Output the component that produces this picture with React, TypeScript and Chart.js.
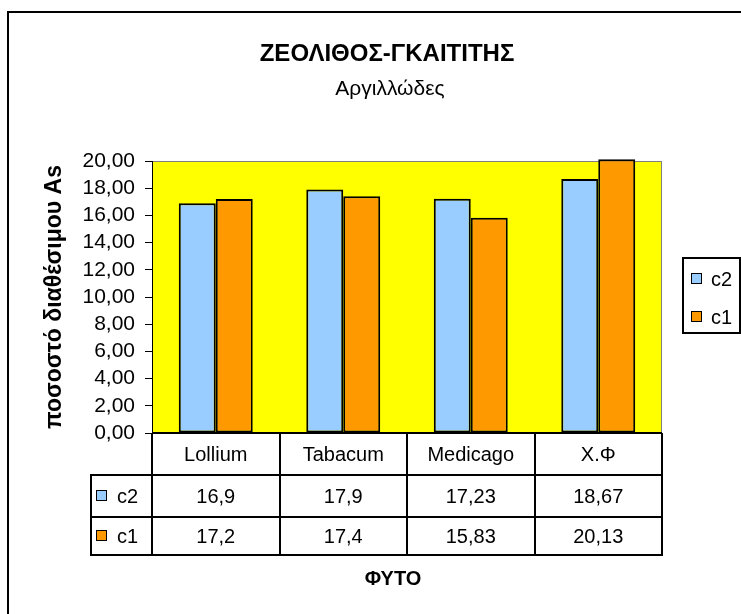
import React, { useEffect, useRef } from "react";
import { Chart, registerables } from "chart.js";

Chart.register(...registerables);

const titleText = "ΖΕΟΛΙΘΟΣ-ΓΚΑΙΤΙΤΗΣ";
const subtitleText = "Αργιλλώδες";
const yAxisTitle = "ποσοστό διαθέσιμου As";
const xAxisTitle = "ΦΥΤΟ";
const categories = ["Lollium", "Tabacum", "Medicago", "Χ.Φ"];
const seriesNames = ["c2", "c1"];
const c2Values = [16.9, 17.9, 17.23, 18.67];
const c1Values = [17.2, 17.4, 15.83, 20.13];
const seriesColors = ["#99CCFF", "#FF9900"];
const yMin = 0;
const yMax = 20;
const yStep = 2;

const FONT = "'Liberation Sans', Arial, sans-serif";
const fmtTick = (v: number) => v.toFixed(2).replace(".", ",");
const fmtVal = (v: number) => String(v).replace(".", ",");

const seriesValues = [c2Values, c1Values];

const chartPlugin = {
  id: "excelFrame",
  beforeDraw(chart: any) {
    const { ctx, chartArea: a } = chart;
    ctx.save();
    ctx.fillStyle = "#ffffff";
    ctx.fillRect(0, 0, chart.width, chart.height);
    ctx.strokeStyle = "#000";
    ctx.lineWidth = 2;
    ctx.strokeRect(8, 12, chart.width + 40, chart.height + 40);
    ctx.fillStyle = "#FFFF00";
    ctx.fillRect(a.left, a.top, a.right - a.left, a.bottom - a.top);
    ctx.strokeStyle = "#808080";
    ctx.lineWidth = 1;
    ctx.strokeRect(a.left + 0.5, a.top + 0.5, a.right - a.left - 1, a.bottom - a.top - 1);
    ctx.restore();
  },
  afterDraw(chart: any) {
    const { ctx, chartArea: a } = chart;
    const xs = chart.scales.x;
    const n = categories.length;
    const catW = (a.right - a.left) / n;
    ctx.save();
    // titles
    ctx.fillStyle = "#000";
    ctx.textAlign = "center";
    ctx.textBaseline = "middle";
    ctx.font = `bold 24px ${FONT}`;
    ctx.fillText(titleText, 387, 54);
    ctx.font = `21px ${FONT}`;
    ctx.fillText(subtitleText, 390, 89);

    // data table
    const top = a.bottom;
    const rows = [top, top + 42, top + 84, top + 122];
    const legendLeft = 91;
    ctx.strokeStyle = "#000";
    ctx.lineWidth = 2;
    ctx.beginPath();
    ctx.moveTo(a.left, rows[0]);
    ctx.lineTo(a.right, rows[0]);
    for (let r = 1; r < rows.length; r++) {
      ctx.moveTo(legendLeft - 1, rows[r]);
      ctx.lineTo(a.right + 1, rows[r]);
    }
    ctx.moveTo(legendLeft, rows[1]);
    ctx.lineTo(legendLeft, rows[3]);
    for (let i = 0; i <= n; i++) {
      const x = Math.round(a.left + i * catW);
      ctx.moveTo(x, rows[0]);
      ctx.lineTo(x, rows[3]);
    }
    ctx.stroke();

    ctx.font = `20px ${FONT}`;
    ctx.fillStyle = "#000";
    ctx.textAlign = "center";
    ctx.textBaseline = "middle";
    for (let i = 0; i < n; i++) {
      const cx = xs.getPixelForValue(i);
      ctx.fillText(categories[i], cx, (rows[0] + rows[1]) / 2 + 1);
      for (let s = 0; s < seriesValues.length; s++) {
        ctx.fillText(fmtVal(seriesValues[s][i]), cx, (rows[s + 1] + rows[s + 2]) / 2 + 1);
      }
    }
    // legend keys in table
    ctx.textAlign = "left";
    for (let s = 0; s < seriesNames.length; s++) {
      const cy = (rows[s + 1] + rows[s + 2]) / 2;
      ctx.fillStyle = seriesColors[s];
      ctx.fillRect(96, cy - 6, 11, 11);
      ctx.strokeStyle = "#000";
      ctx.lineWidth = 1;
      ctx.strokeRect(96.5, cy - 5.5, 10, 10);
      ctx.fillStyle = "#000";
      ctx.fillText(seriesNames[s], 117, cy + 1);
    }

    // x axis title
    ctx.font = `bold 20px ${FONT}`;
    ctx.textAlign = "center";
    ctx.fillText(xAxisTitle, 393, 579);

    // right legend
    ctx.lineWidth = 2;
    ctx.strokeStyle = "#000";
    ctx.strokeRect(683, 258, 57, 75);
    ctx.font = `20px ${FONT}`;
    ctx.textAlign = "left";
    const legendY = [279, 317];
    for (let s = 0; s < seriesNames.length; s++) {
      const cy = legendY[s];
      ctx.fillStyle = seriesColors[s];
      ctx.fillRect(691, cy - 6, 11, 11);
      ctx.strokeStyle = "#000";
      ctx.lineWidth = 1;
      ctx.strokeRect(691.5, cy - 5.5, 10, 10);
      ctx.fillStyle = "#000";
      ctx.fillText(seriesNames[s], 711, cy + 1);
    }
    ctx.restore();
  },
};

export default function App() {
  const canvasRef = useRef<HTMLCanvasElement | null>(null);

  useEffect(() => {
    if (!canvasRef.current) return;
    const chart = new Chart(canvasRef.current, {
      type: "bar",
      data: {
        labels: categories,
        datasets: seriesNames.map((name, s) => ({
          label: name,
          data: seriesValues[s],
          backgroundColor: seriesColors[s],
          borderColor: "#000",
          borderWidth: 2,
          borderSkipped: false,
          categoryPercentage: 0.58,
          barPercentage: 1,
          clip: false as any,
        })),
      },
      options: {
        animation: false,
        responsive: false,
        devicePixelRatio: 1,
        layout: { padding: { left: 40, top: 161, right: 79, bottom: 181 } },
        plugins: {
          legend: { display: false },
          title: { display: false },
          tooltip: { enabled: false },
        },
        scales: {
          x: { display: false },
          y: {
            min: yMin,
            max: yMax,
            afterFit: (scale: any) => {
              scale.width = 112;
            },
            ticks: {
              stepSize: yStep,
              autoSkip: false,
              callback: (v: any) => fmtTick(Number(v)),
              font: { family: FONT, size: 21 },
              color: "#000",
              padding: 10,
            },
            grid: {
              display: true,
              drawOnChartArea: false,
              drawTicks: true,
              tickLength: 7,
              color: "#000",
              lineWidth: 1,
            },
            border: { display: true, color: "#000", width: 1 },
            title: {
              display: true,
              text: yAxisTitle,
              font: { family: FONT, size: 23, weight: "bold" },
              color: "#000",
              padding: { top: 1, bottom: 0 },
            },
          },
        },
      },
      plugins: [chartPlugin],
    });
    return () => chart.destroy();
  }, []);

  return (
    <div style={{ position: "absolute", left: 0, top: 0, width: 741, height: 614, background: "#fff" }}>
      <canvas ref={canvasRef} width={741} height={614} style={{ display: "block" }} />
    </div>
  );
}
